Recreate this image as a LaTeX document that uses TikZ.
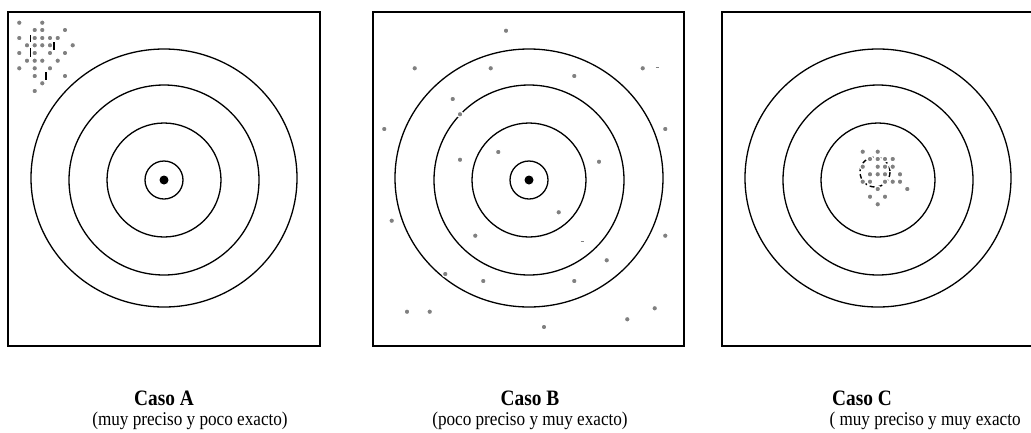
\documentclass[tikz,border=0pt]{standalone}
\usepackage{fontspec}
\setmainfont{Liberation Serif}
\newfontfamily\estrecha{Liberation Serif}[FakeStretch=0.88]

\begin{document}
\begin{tikzpicture}[x=1pt,y=-1pt,
  marco/.style={line width=1.5pt},
  anillo/.style={line width=1.3pt},
  tiro/.style={fill=black!50, draw=white, line width=1.2pt},
  trazo/.style={line width=1.4pt},
  titulo/.style={font=\estrecha\fontsize{22}{24}\selectfont\bfseries},
  nota/.style={font=\estrecha\fontsize{19.5}{21}\selectfont}]
  \useasboundingbox (0,0) rectangle (1031,432);

  % --- Caso A: precise, not accurate ---
  \draw[marco] (8,12) rectangle (320,346);
  \foreach \r in {19,57,95}
    \draw[anillo] (164,180) circle (\r);
  \draw[anillo] (164,178) ellipse (133 and 129);
  \fill (164,180) circle (4.5);
  % shots
  \foreach \x/\y in {19.3/22.7, 42.3/22.7,
      34.7/30, 42.3/30, 65/30,
      19.3/38, 34.7/38, 42.3/38, 50/38, 57.7/38,
      27/45.3, 34.7/45.3, 42.3/45.3, 50/45.3, 72.7/45.3,
      19.3/53, 34.7/53, 50/53, 65/53,
      27/60.7, 34.7/60.7, 42.3/60.7, 57.7/60.7,
      19.3/68.3, 34.7/68.3, 50/68.3,
      34.7/76, 65/76, 42.3/83.3, 34.7/91}
    \filldraw[tiro] (\x,\y) circle (2.9);
  \foreach \x/\ya/\yb in {30.7/35/42, 30.7/48/57, 54/42/50, 46/72/80}
    \draw[trazo] (\x,\ya) -- (\x,\yb);

  % --- Caso B: accurate, not precise ---
  \draw[marco] (373,12) rectangle (684,346);
  \foreach \r in {19,57,95}
    \draw[anillo] (529,180) circle (\r);
  \draw[anillo] (529,178) ellipse (134 and 129);
  \fill (529,180) circle (4.5);
  % shots
  \foreach \x/\y in {506/30.7, 414.7/68.3, 490.7/68.3, 574.3/76, 642.7/68.3,
      452.7/99, 460/114.3, 384.3/129, 665.3/129,
      498.3/152, 460/159.7, 599/161.7, 558.7/212.3, 391.7/220.7,
      475.3/235.7, 665.3/235.7, 606.7/260.3, 445.3/274,
      483.3/281, 574.3/281, 407/311.7, 429.7/311.7,
      654.7/308.3, 627.3/319.3, 544/327}
    \filldraw[tiro] (\x,\y) circle (2.9);
  \draw[black!50, line width=0.9pt] (655.5,67.3) -- (659,67.3);
  \draw[black!50, line width=0.9pt] (580.5,241.3) -- (584,241.3);

  % --- Caso C: precise and accurate ---
  \draw[marco] (1031,12) -| (722,346) -- (1031,346);
  \foreach \r in {57,95}
    \draw[anillo] (878,180) circle (\r);
  \draw[anillo] (878,178) ellipse (133 and 129);
  \draw[trazo, dash pattern=on 5pt off 3pt] (875,172) circle (15);
  % shots
  \foreach \x/\y in {862.7/151.7, 877.7/151.7,
      870/159, 877.7/159, 885/159, 892.7/159,
      862.7/166.7, 877.7/166.7, 885/166.7, 892.7/166.7,
      870/174.3, 877.7/174.3, 885/174.3, 900/174.3,
      862.7/181.7, 870/181.7, 885/181.7, 892.7/181.7, 900/181.7,
      877.7/189, 907.3/189, 870/196.7, 885/196.7, 877.7/204.3}
    \filldraw[tiro] (\x,\y) circle (2.9);

  % labels
  \node[titulo] (casoA) at (164,398) {Caso A};
  \node[nota] (descA) at (190,421) {(muy preciso y poco exacto)};
  \node[titulo] (casoB) at (530,398) {Caso B};
  \node[nota] (descB) at (530,421) {(poco preciso y muy exacto)};
  \node[titulo] (casoC) at (862,398) {Caso C};
  \node[nota, anchor=west] (descC) at (826,421) {( muy preciso y muy exacto};
\end{tikzpicture}
\end{document}
